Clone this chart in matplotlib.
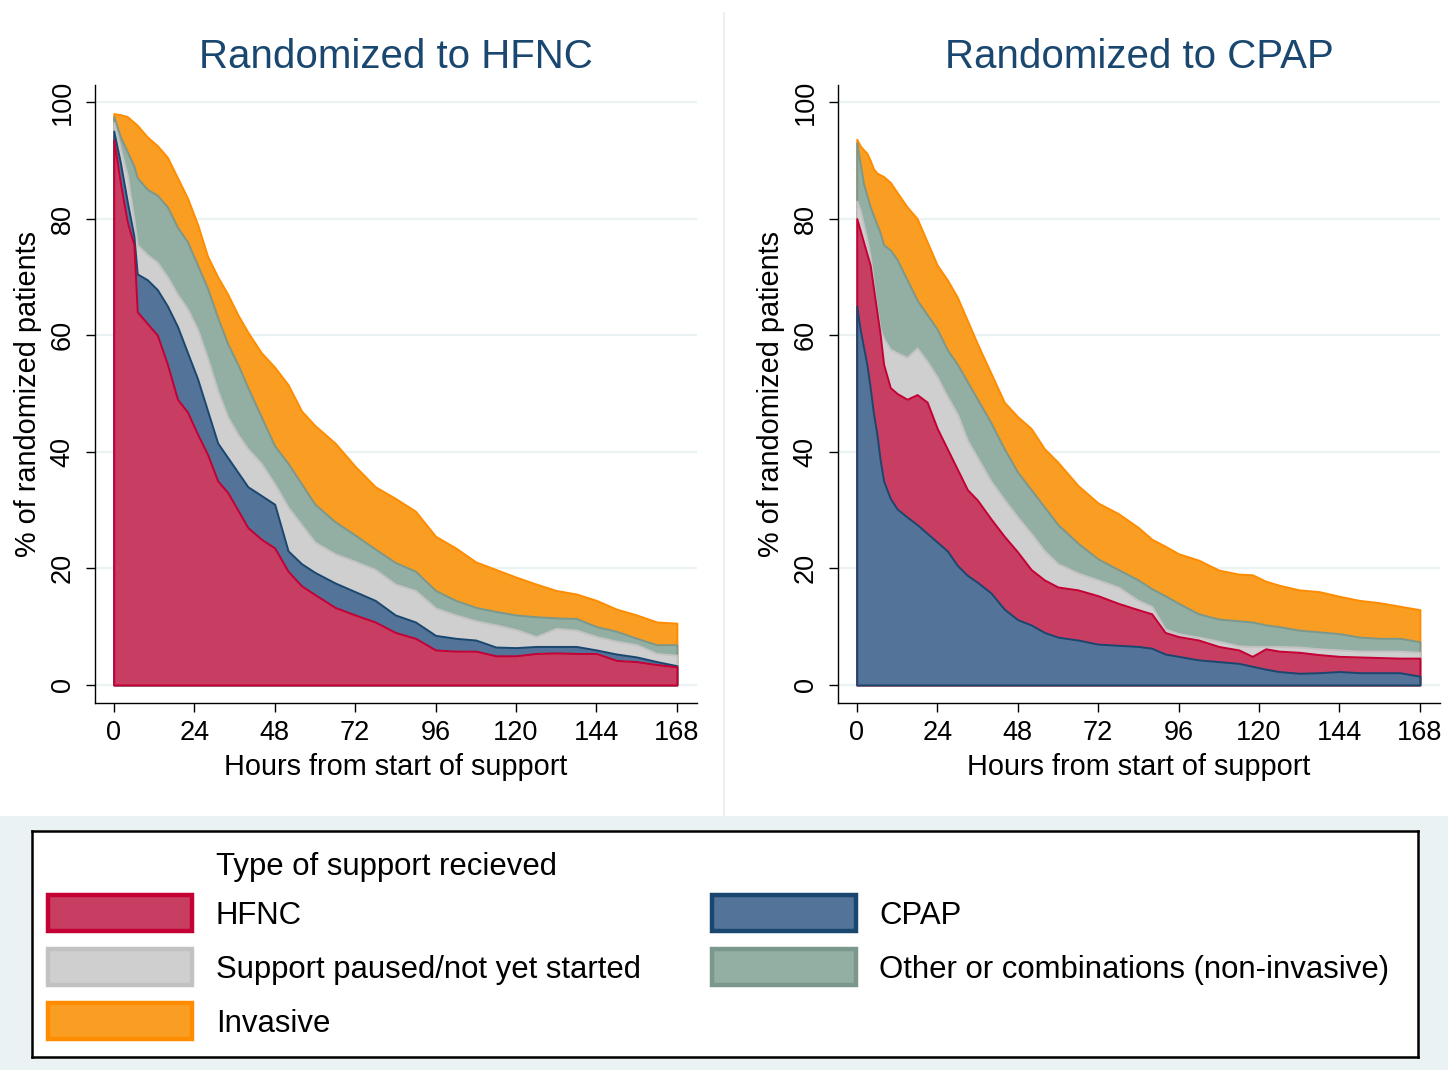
import numpy as np
import matplotlib
matplotlib.use("Agg")
import matplotlib.pyplot as plt
from matplotlib.patches import Rectangle

plt.rcParams['font.family'] = ['Liberation Sans', 'DejaVu Sans']

# --- data: cumulative % of randomized patients (upper edge of each stacked band) ---
# Randomized to HFNC (stack from bottom: HFNC, CPAP, paused, other, invasive)
hfnc_hours = [0, 2, 4, 6, 7, 10, 13, 16, 19, 22, 25, 28, 31, 34, 37, 40, 44, 48, 52, 56,
              60, 66, 72, 78, 84, 90, 96, 102, 108, 114, 120, 126, 132, 138, 144, 150, 156, 162, 168]
hfnc_arm_hfnc = [93.5, 86, 79.5, 75.5, 64, 62, 60, 55, 49, 46.8, 43, 39.5, 35, 33, 30, 27, 25, 23.5, 19.5, 17,
                 15.5, 13.3, 12, 10.8, 9, 8, 6, 5.8, 5.8, 5, 5, 5.4, 5.5, 5.4, 5.4, 4.2, 4, 3.5, 3.1]
hfnc_arm_cpap = [95, 89.5, 83, 77, 70.5, 69.5, 67.8, 65, 61.5, 57, 52.5, 47, 41.5, 39, 36.5, 34, 32.5, 31, 23, 20.8,
                 19.3, 17.5, 16, 14.5, 12, 10.8, 8.5, 8, 7.7, 6.5, 6.4, 6.6, 6.6, 6.6, 6, 5.3, 4.8, 4, 3.3]
hfnc_arm_paused = [96.5, 92, 87.5, 80, 75.5, 73.8, 72.5, 70, 67, 64.5, 61, 56, 50.5, 46, 43, 40.5, 38, 34.5, 30.5, 27.5,
                   24.5, 22.5, 21.2, 19.8, 17.3, 16.2, 13.2, 12, 11, 10.3, 9.5, 8.3, 9.7, 9.4, 8.3, 7.5, 6.9, 5.4, 5.1]
hfnc_arm_other = [97.5, 94, 91.5, 89, 87, 85, 84, 82, 78.5, 76, 72, 68, 63, 58.5, 55, 51, 46, 41, 38, 34.5,
                  31, 28, 25.7, 23.3, 21, 19.5, 16.2, 14.5, 13.3, 12.6, 12, 11.7, 11.5, 11.4, 10, 9.2, 8, 6.9, 6.9]
hfnc_arm_invasive = [98, 97.8, 97.5, 96.5, 96, 94, 92.5, 90.5, 87, 83.5, 79, 73.5, 70, 67, 63.5, 60.5, 57, 54.5, 51.5, 47,
                     44.5, 41.5, 37.5, 34, 32, 29.8, 25.5, 23.5, 21.1, 19.8, 18.5, 17.3, 16.2, 15.6, 14.5, 13, 12, 10.8, 10.6]

# Randomized to CPAP (stack from bottom: CPAP, HFNC, paused, other, invasive)
cpap_hours = [0, 1, 2, 3, 4, 5, 6, 7, 8, 10, 12, 15, 18, 21, 24, 27, 30, 33, 36, 40, 44, 48, 52,
              56, 60, 66, 72, 78, 84, 88, 92, 96, 102, 108, 114, 118, 122, 126, 132, 138, 144, 150, 156, 162, 168]
cpap_arm_cpap = [65, 61, 58, 55, 51, 46.5, 43, 38.5, 35, 32, 30.2, 28.8, 27.5, 26, 24.5, 23, 20.5, 18.8, 17.6, 15.8, 13, 11.2, 10.3,
                 9, 8.2, 7.7, 7, 6.8, 6.6, 6.3, 5.3, 4.9, 4.3, 4, 3.7, 3.2, 2.7, 2.3, 2, 2.1, 2.3, 2.1, 2.1, 2.1, 1.5]
cpap_arm_hfnc = [80, 78, 76, 74, 72, 68, 64, 60, 55, 51, 50, 49, 49.8, 48.5, 44, 40.5, 37, 33.5, 31.7, 28.5, 25.5, 22.8, 19.8,
                 18, 16.8, 16.3, 15.3, 14, 12.9, 12.2, 9, 8.3, 7.7, 6.6, 6, 4.9, 6.2, 5.8, 5.6, 5.2, 4.9, 4.8, 4.7, 4.6, 4.6]
cpap_arm_paused = [83, 81.5, 79, 76.5, 73.5, 69, 64.5, 61, 59.5, 57.6, 57, 56.2, 57.8, 55.5, 52.8, 49.5, 46.5, 42, 39, 35, 31.8, 28.8, 26,
                   23, 20.8, 19.2, 18, 16.8, 14.5, 13.5, 9.6, 8.8, 8.2, 7.5, 6.7, 6.6, 6.6, 6.6, 6.5, 6.2, 6, 5.8, 5.8, 5.8, 5.6]
cpap_arm_other = [93, 89.5, 86, 84, 82, 80.5, 79, 77.5, 75.5, 74.6, 73, 69.5, 66, 63.5, 61, 57.5, 55, 52, 49, 45, 40.5, 36.5, 33.5,
                  30.5, 27.5, 24.3, 21.6, 19.8, 18, 16.5, 15.3, 14, 12.2, 11.3, 11, 10.8, 10.3, 10, 9.4, 9.1, 8.8, 8.2, 8, 8, 7.4]
cpap_arm_invasive = [93.6, 92.5, 91.8, 91.2, 90, 88.5, 87.8, 87.5, 87.2, 86.2, 84.5, 82, 80, 76, 72, 69.5, 66.5, 62.5, 58.5, 53.5, 48.5, 46, 44,
                     40.5, 38.2, 34.2, 31.2, 29.4, 27, 25, 23.8, 22.5, 21.4, 19.7, 19, 18.9, 17.8, 17.1, 16.3, 16, 15.2, 14.5, 14.1, 13.5, 12.9]

x_ticks = [0, 24, 48, 72, 96, 120, 144, 168]
y_ticks = [0, 20, 40, 60, 80, 100]

# fill colour, edge colour
COL = {
    "HFNC": ("#C83E62", "#C40035"),
    "CPAP": ("#537399", "#1A476F"),
    "Support paused/not yet started": ("#CFCFCF", "#C2C2C2"),
    "Other or combinations (non-invasive)": ("#93AEA3", "#7C978B"),
    "Invasive": ("#F99E22", "#FF8C00"),
}

W, H = 1448, 1070
BG = "#EAF2F3"
TITLE_COL = "#1A476F"


def px_box(x0, y0, x1, y1):
    return [x0 / W, 1 - y1 / H, (x1 - x0) / W, (y1 - y0) / H]


fig = plt.figure(figsize=(W / 100, H / 100), dpi=100, facecolor=BG)
for box in [(0, 0, 1448, 12), (0, 0, 723, 816), (725, 0, 1448, 816)]:
    r = px_box(*box)
    fig.patches.append(Rectangle((r[0], r[1]), r[2], r[3], transform=fig.transFigure,
                                 facecolor="white", edgecolor="none", zorder=-5))


def draw_panel(ax, hours, layers, title, cx):
    # Stata-style: each band drawn as an area from 0, top band first
    for name, top in reversed(layers):
        fc, ec = COL[name]
        ax.fill_between(hours, 0, top, facecolor=fc, edgecolor=ec, linewidth=1.4, zorder=2)
    ax.set_xlim(-5.6, 174)
    ax.set_ylim(-3.1, 102.9)
    ax.set_xticks(x_ticks)
    ax.set_yticks(y_ticks)
    ax.grid(axis="y", color=BG, linewidth=1.6, zorder=0)
    ax.grid(axis="x", visible=False)
    ax.set_axisbelow(True)
    for s in ["top", "right"]:
        ax.spines[s].set_visible(False)
    for s in ["left", "bottom"]:
        ax.spines[s].set_linewidth(1.0)
        ax.spines[s].set_color("black")
    ax.tick_params(axis="both", length=6.5, width=1.0, labelsize=19.5, direction="out")
    ax.tick_params(axis="x", pad=6)
    ax.tick_params(axis="y", pad=7.5, labelrotation=90)
    for lbl in ax.get_yticklabels():
        lbl.set_va("center")
    fig.text(cx / W, 1 - 68 / H, title, ha="center", va="baseline", fontsize=29, color=TITLE_COL)
    fig.text(cx / W, 1 - 775 / H, "Hours from start of support", ha="center", va="baseline", fontsize=20.8)


ax1 = fig.add_axes(px_box(95, 85, 697, 703))
draw_panel(ax1, hfnc_hours, [
    ("HFNC", hfnc_arm_hfnc),
    ("CPAP", hfnc_arm_cpap),
    ("Support paused/not yet started", hfnc_arm_paused),
    ("Other or combinations (non-invasive)", hfnc_arm_other),
    ("Invasive", hfnc_arm_invasive),
], "Randomized to HFNC", 396)
fig.text(28 / W, 1 - 394 / H, "% of randomized patients", rotation=90, ha="center", va="center", fontsize=20.8)

ax2 = fig.add_axes(px_box(838, 85, 1440, 703))
draw_panel(ax2, cpap_hours, [
    ("CPAP", cpap_arm_cpap),
    ("HFNC", cpap_arm_hfnc),
    ("Support paused/not yet started", cpap_arm_paused),
    ("Other or combinations (non-invasive)", cpap_arm_other),
    ("Invasive", cpap_arm_invasive),
], "Randomized to CPAP", 1139)
fig.text(771 / W, 1 - 394 / H, "% of randomized patients", rotation=90, ha="center", va="center", fontsize=20.8)

# legend box
leg = fig.add_axes(px_box(32, 831, 1418, 1057))
leg.set_xlim(32, 1418)
leg.set_ylim(1057, 831)
leg.set_xticks([])
leg.set_yticks([])
leg.set_facecolor("white")
for s in leg.spines.values():
    s.set_linewidth(1.8)
    s.set_color("black")

legend_title = "Type of support recieved"
legend_cols = [
    ["HFNC", "Support paused/not yet started", "Invasive"],
    ["CPAP", "Other or combinations (non-invasive)"],
]
leg.text(216, 867, legend_title, ha="left", va="center", fontsize=22.4)
for col, (sx, tx) in zip(legend_cols, [(48, 216), (712, 879)]):
    for i, name in enumerate(col):
        cy = 913 + i * 54
        fc, ec = COL[name]
        leg.add_patch(Rectangle((sx, cy - 18), 144, 36, facecolor=fc, edgecolor=ec, linewidth=3.2))
        leg.text(tx, cy + 3, name, ha="left", va="center", fontsize=22.4)

fig.savefig("out.png", dpi=100, facecolor=fig.get_facecolor())
